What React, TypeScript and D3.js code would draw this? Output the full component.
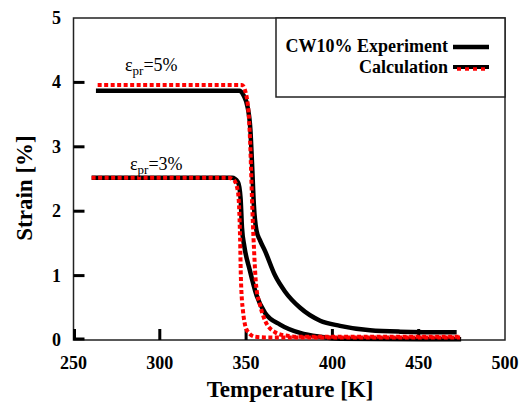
import React from "react";
import * as d3 from "d3";

const xTicks = [250, 300, 350, 400, 450, 500];
const yTicks = [0, 1, 2, 3, 4, 5];

const exp5T = [263, 300, 346, 348.5, 351, 352.5, 353.5, 354.5, 356, 358, 361, 366.8, 372.6, 381.3, 392.9, 404.4, 421.8, 439.2, 472];
const exp5S = [3.87, 3.87, 3.87, 3.8, 3.6, 3.26, 2.7, 2.1, 1.7, 1.55, 1.38, 1.0, 0.75, 0.5, 0.3, 0.22, 0.15, 0.13, 0.12];

const calc5T = [264, 300, 347.6, 350.5, 352.3, 353.4, 354.6, 355.8, 358.1, 361, 366.8, 372.6, 381.3, 474];
const calc5S = [3.96, 3.96, 3.96, 3.75, 3.1, 2.2, 1.4, 0.85, 0.54, 0.3, 0.12, 0.07, 0.05, 0.05];

const exp3T = [260.5, 300, 341.9, 345.3, 346.8, 347.6, 349, 352, 356, 361, 369.7, 381.3, 392.9, 404.4, 474.6];
const exp3S = [2.52, 2.52, 2.52, 2.45, 2.2, 1.75, 1.45, 1.1, 0.7, 0.42, 0.24, 0.11, 0.05, 0.02, 0.01];

const calc3T = [260.5, 300, 339.5, 343, 345.3, 346.5, 347, 348.2, 350.5, 355.2, 361, 474];
const calc3S = [2.52, 2.52, 2.52, 2.48, 2.3, 1.6, 0.95, 0.45, 0.15, 0.05, 0.04, 0.04];

const W = 521, H = 403;
const L = 73.5, R = 505, T = 18, B = 340;

export default function App() {
  const x = d3.scaleLinear().domain([250, 500]).range([L, R]);
  const y = d3.scaleLinear().domain([0, 5]).range([B, T]);
  const line = d3
    .line<[number, number]>()
    .x((d) => x(d[0]))
    .y((d) => y(d[1]))
    .curve(d3.curveMonotoneX);
  const zip = (a: number[], b: number[]) => a.map((v, i) => [v, b[i]] as [number, number]);
  const font = 'Tinos, "Liberation Serif", "Times New Roman", Times, "DejaVu Serif", "Noto Serif", serif';

  return (
    <svg
      width={W}
      height={H}
      style={{ position: "absolute", left: 0, top: 0, background: "#fff", fontFamily: font }}
    >
      <rect x={0} y={0} width={W} height={H} fill="#fff" />
      {/* frame */}
      <rect x={L} y={T} width={R - L} height={B - T} fill="none" stroke="#222" strokeWidth={1.5} />
      {/* ticks */}
      {yTicks.map((t) => (
        <g key={"y" + t}>
          {t > 0 && t < 5 && <line x1={L} x2={L + 11} y1={y(t)} y2={y(t)} stroke="#000" strokeWidth={3} />}
          {t === 0 && <line x1={L} x2={L + 11} y1={y(t) - 1} y2={y(t) - 1} stroke="#000" strokeWidth={3} />}
          <text x={61} y={y(t) + 6} textAnchor="end" fontSize={18} fontWeight="bold">
            {t}
          </text>
        </g>
      ))}
      {xTicks.map((t) => (
        <g key={"x" + t}>
          {t < 500 && (
            <line x1={x(t) + (t === 250 ? 1 : 0)} x2={x(t) + (t === 250 ? 1 : 0)} y1={B} y2={B - 11} stroke="#000" strokeWidth={3} />
          )}
          <text x={x(t)} y={369} textAnchor="middle" fontSize={18} fontWeight="bold">
            {t}
          </text>
        </g>
      ))}
      {/* axis labels */}
      <text x={290} y={397} textAnchor="middle" fontSize={23} fontWeight="bold">
        Temperature [K]
      </text>
      <text
        transform={`translate(32,188) rotate(-90)`}
        textAnchor="middle"
        fontSize={23}
        fontWeight="bold"
      >
        Strain [%]
      </text>
      {/* experiment lines */}
      <path d={line(zip(exp5T, exp5S)) || ""} fill="none" stroke="#000" strokeWidth={4.5} />
      <path d={line(zip(exp3T, exp3S)) || ""} fill="none" stroke="#000" strokeWidth={4.5} />
      {/* calculation lines */}
      <path d={line(zip(calc5T, calc5S)) || ""} fill="none" stroke="#ff0000" strokeWidth={4} strokeDasharray="4 2.5" />
      <path d={line(zip(calc3T, calc3S)) || ""} fill="none" stroke="#ff0000" strokeWidth={4} strokeDasharray="4 2.5" />
      {/* annotations */}
      <text x={125} y={71} fontSize={18}>
        ε<tspan fontSize={13} dy={4}>pr</tspan>
        <tspan dy={-4}>=5%</tspan>
      </text>
      <text x={130} y={170} fontSize={18}>
        ε<tspan fontSize={13} dy={4}>pr</tspan>
        <tspan dy={-4}>=3%</tspan>
      </text>
      {/* legend */}
      <rect x={276} y={T} width={R - 276} height={97 - T} fill="#fff" stroke="#222" strokeWidth={1.5} />
      <text x={448} y={52} textAnchor="end" fontSize={18} fontWeight="bold">
        CW10% Experiment
      </text>
      <line x1={453} x2={489} y1={47} y2={47} stroke="#000" strokeWidth={4.5} />
      <text x={448} y={73} textAnchor="end" fontSize={18} fontWeight="bold">
        Calculation
      </text>
      <line x1={453} x2={489} y1={67} y2={67} stroke="#000" strokeWidth={4} />
      <line x1={453} x2={489} y1={69} y2={69} stroke="#ff0000" strokeWidth={3.5} strokeDasharray="4 4" strokeDashoffset={-4} />
    </svg>
  );
}
